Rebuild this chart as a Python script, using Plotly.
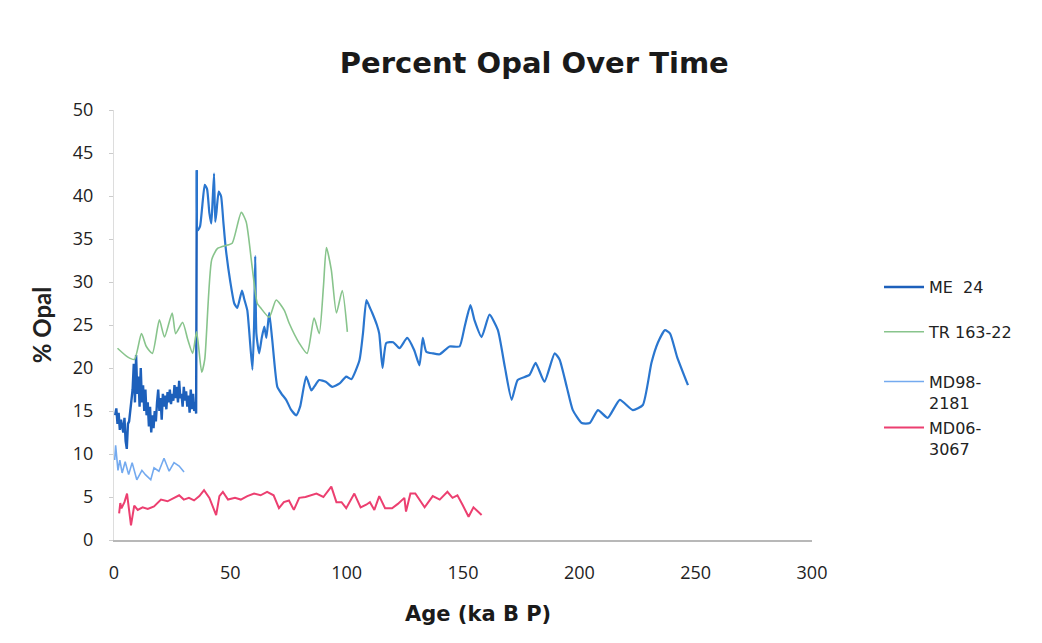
import plotly.graph_objects as go

# ME 24
me24_x = [0.5, 1, 1.5, 2, 2.5, 3, 3.5, 4, 4.5, 5, 5.5, 6, 6.5, 7, 7.5, 8, 8.5, 9, 9.5, 10,
          10.5, 11, 11.5, 12, 12.5, 13, 13.5, 14, 14.5, 15, 15.5, 16, 16.5, 17, 17.5, 18, 18.5, 19, 19.5, 20,
          20.5, 21, 21.5, 22, 22.5, 23, 23.5, 24, 24.5, 25, 25.5, 26, 26.5, 27, 27.5, 28, 28.5, 29, 29.5, 30,
          30.5, 31, 31.5, 32, 32.5, 33, 33.5, 34, 34.5, 35, 35.3, 35.6, 36, 37, 38, 39, 40, 41, 41.8, 42.3,
          43, 43.5, 44, 45, 46, 47, 48, 50, 51.7, 53, 55, 56, 57.3, 59.5, 60.2, 60.7, 61.2, 62.4, 63.5, 64.6,
          65.5, 66.7, 68, 70.2, 72, 74, 76, 78.3, 80, 82.6, 84.8, 86, 88.2, 91, 93.8, 97, 99.8, 102, 105.5, 107,
          108.5, 110, 111, 113, 114, 115.4, 117, 120, 122.7, 126, 129, 131.3, 132.7, 134.2, 137, 140, 144.2, 148.5, 150.7, 153.2,
          155, 158, 161.4, 165, 168, 170.9, 173.5, 178.6, 181.2, 185, 189.4, 191.5, 194.6, 197.2, 201, 204.5, 208, 212.2, 217.4, 223,
          227.3, 231, 233.7, 236.8, 239, 242, 246.7]
me24_y = [14.5, 15.3, 13.5, 14.8, 12.8, 14, 13.2, 12.5, 14.2, 11.5, 10.6, 13.5, 13.8, 15, 16, 17.5, 20.5, 16, 21.5, 17,
          19, 15.5, 20, 16, 18, 15, 17.5, 14.5, 16, 13.2, 15.5, 12.5, 14.5, 13, 15, 13.8, 16, 17.5, 15, 16.5,
          14, 17, 15.5, 16.8, 15.2, 17.2, 16, 17.5, 15.8, 17, 16.2, 18, 16.5, 17.8, 16, 18.5, 16.5, 17, 15.5, 17.8,
          16.2, 17.3, 15.5, 16.8, 14.8, 17.5, 15.2, 17, 15, 16, 14.7, 43, 36, 36.5, 39, 41.3, 40.8, 38, 36.8, 39,
          42.6, 37, 38, 40.5, 40, 37, 34, 30, 27.5, 27, 29, 28, 26.7, 19.8, 25, 33, 24, 21.7, 23.5, 24.8,
          23.5, 26.4, 23.3, 17.8, 17, 16.3, 15.2, 14.5, 15.5, 19, 17.4, 17.8, 18.6, 18.4, 17.8, 18.2, 19, 18.7, 20.9, 24,
          27.9, 27, 26.4, 25, 24, 20, 22.9, 23, 22.3, 23.5, 22.1, 20.3, 23.5, 21.9, 21.7, 21.6, 22.5, 22.5, 24.8, 27.3,
          25.5, 23.6, 26.2, 24.4, 20.1, 16.3, 18.6, 19.2, 20.6, 18.4, 21.7, 21, 17.8, 15.1, 13.6, 13.6, 15.1, 14.2, 16.3, 15.1,
          15.7, 20.6, 22.9, 24.4, 24, 21.3, 18]

# TR 163-22
tr_x = [1.5, 5.8, 8.8, 11.8, 13.9, 16.5, 19.5, 21.7, 25, 26.5, 29.5, 31.7, 33.8, 35.5, 37.7, 39, 42, 44.5, 48.8, 50.8,
        54.7, 56.8, 59.4, 61.6, 63, 66.7, 69.7, 73.2, 75.3, 79.6, 83, 86, 88.2, 90, 91.3, 93.4, 95.6, 98.1, 100.3]
tr_y = [22.3, 21.3, 21, 24, 22.5, 21.7, 25.6, 23.6, 26.4, 24, 25.3, 23.3, 21.7, 24.2, 19.5, 21, 32.6, 33.9, 34.3, 34.5,
        38.1, 37, 31.7, 27.5, 27, 25.9, 27.9, 26.7, 25.2, 22.9, 21.7, 25.8, 24, 29.4, 34, 31.4, 26.4, 29, 24.2]

# MD98-2181
md98_x = [0.3, 0.7, 1.7, 2.5, 3.5, 4.8, 6.3, 7.8, 9.8, 12, 13.5, 15.8, 17.2, 19.3, 21.5, 23.7, 25.8, 28, 30.1]
md98_y = [9.3, 11, 8.1, 9.3, 7.8, 9.1, 7.6, 9, 7, 8.1, 7.6, 7, 8.4, 8, 9.5, 8, 9, 8.6, 7.9]

# MD06-3067
md06_x = [2.2, 2.7, 3.2, 4.5, 5.6, 7.3, 8.7, 10.2, 12.3, 14.5, 17.2, 20.2, 23, 25.8, 28, 30, 32.2, 34.4, 36.7, 38.7,
          41, 43.9, 45.3, 46.8, 49, 52, 54.5, 57.3, 60.2, 63, 65.8, 68.6, 70.9, 73, 75.2, 77.3, 79.6, 82.3, 87, 90,
          93.4, 95.6, 97.8, 99.8, 103.3, 106, 108.4, 110, 111.9, 114, 116.5, 119.5, 122, 124.8, 125.5, 127.4, 129.5, 133.5, 137, 140,
          143.3, 145.5, 147.6, 149.8, 152.4, 154.5, 158]
md06_y = [3.1, 4.3, 3.7, 4.4, 5.4, 1.7, 4, 3.5, 3.8, 3.6, 3.9, 4.7, 4.5, 4.9, 5.2, 4.7, 4.9, 4.6, 5.1, 5.8,
          4.9, 2.9, 5.1, 5.6, 4.7, 4.9, 4.7, 5.1, 5.4, 5.2, 5.6, 5.2, 3.7, 4.4, 4.6, 3.5, 4.9, 5, 5.4, 5,
          6.2, 4.4, 4.4, 3.7, 5.4, 3.8, 4.1, 4.4, 3.5, 5.1, 3.7, 3.7, 4.2, 4.9, 3.3, 5.4, 5.4, 3.8, 5.1, 4.7,
          5.6, 4.9, 5.2, 4.1, 2.7, 3.8, 2.9]

x_ticks = [0, 50, 100, 150, 200, 250, 300]
y_ticks = [0, 5, 10, 15, 20, 25, 30, 35, 40, 45, 50]

TICKFONT = "'Open Sans', sans-serif"
BOLDFONT = "'DejaVu Sans', sans-serif"
LEGFONT = "'DejaVu Sans', sans-serif"
split = me24_x.index(35.6)

fig = go.Figure()
# ME 24: dense early section drawn straight, later section smoothed
fig.add_trace(go.Scatter(x=me24_x[:split + 1], y=me24_y[:split + 1], mode="lines", name="ME  24",
                         line=dict(color="#1d60bb", width=2.4), legend="legend"))
fig.add_trace(go.Scatter(x=me24_x[split:], y=me24_y[split:], mode="lines", name="ME  24",
                         line=dict(color="#2a76cf", width=2.2, shape="spline", smoothing=0.5),
                         showlegend=False))
fig.add_trace(go.Scatter(x=tr_x, y=tr_y, mode="lines", name="TR 163-22",
                         line=dict(color="#88c48c", width=1.6, shape="spline", smoothing=0.6), legend="legend2"))
fig.add_trace(go.Scatter(x=md98_x, y=md98_y, mode="lines", name="MD98-<br>2181",
                         line=dict(color="#74aaef", width=1.6), legend="legend3"))
fig.add_trace(go.Scatter(x=md06_x, y=md06_y, mode="lines", name="MD06-<br>3067",
                         line=dict(color="#ec3f70", width=2), legend="legend4"))

leg_common = dict(x=1.096, xanchor="left", yanchor="middle", valign="top",
                  font=dict(family=LEGFONT, size=16, color="#222222"),
                  bgcolor="rgba(0,0,0,0)", itemwidth=40)

# page body has an 8px margin, so the figure is drawn 8px smaller and offset
fig.update_layout(
    width=1034, height=635,
    paper_bgcolor="white", plot_bgcolor="white",
    margin=dict(l=106, r=230, t=102, b=103, autoexpand=False),
    font=dict(family=TICKFONT, size=18, color="#222222"),
    title=dict(text="<b>Percent Opal Over Time</b>", x=0.509, xanchor="center",
               y=0.914, yanchor="middle", font=dict(family=BOLDFONT, size=29, color="#1a1a1a")),
    xaxis=dict(range=[0, 300], tickvals=x_ticks, showgrid=False, zeroline=False,
               showline=True, linecolor="#b8b8b8", linewidth=1.5, automargin=False,
               ticks="", ticklabelstandoff=16),
    yaxis=dict(range=[0, 50], tickvals=y_ticks, showgrid=False, zeroline=False,
               showline=True, linecolor="#dddddd", linewidth=1, automargin=False,
               ticks="outside", ticklen=4, tickcolor="#cccccc", ticklabelstandoff=12,
               title=dict(text="<b>% Opal</b>", font=dict(family="Lato, sans-serif", size=24), standoff=14)),
    legend=dict(y=0.588, **leg_common),
    legend2=dict(y=0.484, **leg_common),
    legend3=dict(y=0.344, **leg_common),
    legend4=dict(y=0.237, **leg_common),
    annotations=[dict(text="<b>Age (ka B P)</b>", xref="paper", yref="paper", x=0.521, y=-0.172,
                      xanchor="center", yanchor="middle", showarrow=False,
                      font=dict(family=BOLDFONT, size=21, color="#1a1a1a"))],
)

fig.write_html("out.html")
